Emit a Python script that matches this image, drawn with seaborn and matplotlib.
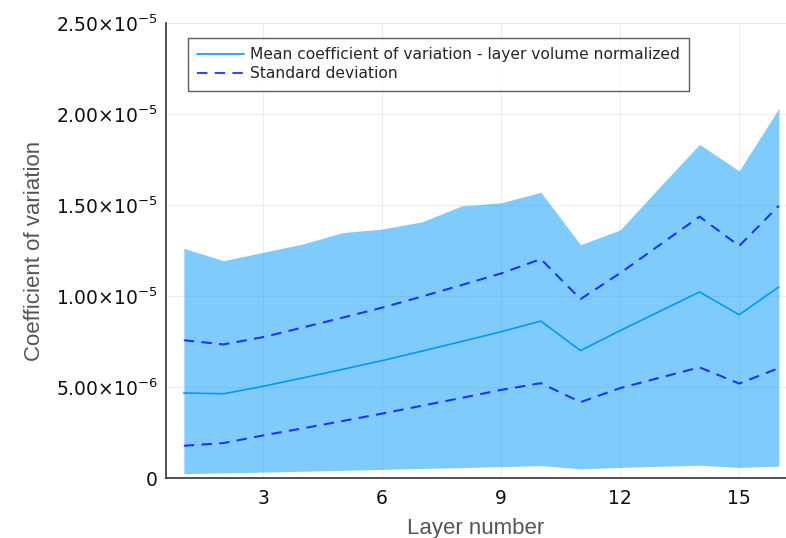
import numpy as np
import pandas as pd
import matplotlib
matplotlib.use("Agg")
import matplotlib.pyplot as plt
import seaborn as sns

layers = list(range(1, 17))
mean_cv = [4.67, 4.63, 5.04, 5.50, 5.97, 6.45, 6.97, 7.50, 8.04, 8.62,
           7.00, 8.10, 9.16, 10.22, 8.97, 10.50]
std_cv = [2.90, 2.71, 2.70, 2.77, 2.84, 2.91, 3.00, 3.10, 3.20, 3.41,
          2.83, 3.16, 3.65, 4.14, 3.78, 4.46]
band_max = [12.62, 11.94, 12.40, 12.86, 13.48, 13.68, 14.07, 14.95, 15.12, 15.70,
            12.82, 13.63, 16.00, 18.33, 16.87, 20.31]
band_min = [0.24, 0.28, 0.32, 0.37, 0.42, 0.47, 0.52, 0.57, 0.62, 0.68,
            0.50, 0.58, 0.64, 0.70, 0.58, 0.65]
scale = 1e-6
yticks = [0, 5e-6, 1e-5, 1.5e-5, 2e-5, 2.5e-5]
ytick_labels = ["0", r"$5.00{\times}10^{-6}$", r"$1.00{\times}10^{-5}$",
                r"$1.50{\times}10^{-5}$", r"$2.00{\times}10^{-5}$", r"$2.50{\times}10^{-5}$"]
xticks = [3, 6, 9, 12, 15]

df = pd.DataFrame({
    "layer": layers,
    "mean": np.array(mean_cv) * scale,
    "upper": (np.array(mean_cv) + np.array(std_cv)) * scale,
    "lower": (np.array(mean_cv) - np.array(std_cv)) * scale,
    "bmax": np.array(band_max) * scale,
    "bmin": np.array(band_min) * scale,
})

sns.set_style("white")
plt.rcParams["font.family"] = ["DejaVu Sans"]
plt.rcParams["mathtext.fontset"] = "dejavusans"

fig = plt.figure(figsize=(7.86, 5.38), dpi=100)
ax = fig.add_axes([166 / 786, 1 - 478 / 538, 620 / 786, (478 - 23) / 538])

ax.fill_between(df["layer"], df["bmin"], df["bmax"], color="#009AFA", alpha=0.5,
                linewidth=0, zorder=1)
sns.lineplot(data=df, x="layer", y="mean", ax=ax, color="#009AFA", linewidth=1.2,
             label="Mean coefficient of variation - layer volume normalized", zorder=3)
sns.lineplot(data=df, x="layer", y="upper", ax=ax, color="#0000FF", alpha=0.75,
             linewidth=1.5, linestyle=(0, (5, 3.5)), label="Standard deviation", zorder=3)
sns.lineplot(data=df, x="layer", y="lower", ax=ax, color="#0000FF", alpha=0.75,
             linewidth=1.5, linestyle=(0, (5, 3.5)), zorder=3)

ax.set_xlim(0.55, 16.18)
ax.set_ylim(0, 2.5e-5)
ax.set_xticks(xticks)
ax.set_xticklabels([str(t) for t in xticks])
ax.set_yticks(yticks)
ax.set_yticklabels(ytick_labels)
ax.tick_params(axis="both", direction="in", length=4, width=0.8, color="#333333",
               labelsize=13.5, labelcolor="#111111")
ax.tick_params(axis="y", pad=6)
ax.tick_params(axis="x", pad=8)
ax.grid(True, color="#000000", alpha=0.07, linewidth=0.8)
ax.set_axisbelow(True)
for s in ["top", "right"]:
    ax.spines[s].set_visible(False)
for s in ["left", "bottom"]:
    ax.spines[s].set_color("#333333")
    ax.spines[s].set_linewidth(1.2)

ax.set_xlabel("Layer number", fontsize=16, color="#555555", labelpad=7,
              family=["Liberation Sans", "DejaVu Sans"])
ax.set_ylabel("Coefficient of variation", fontsize=16, color="#555555", labelpad=8,
              family=["Liberation Sans", "DejaVu Sans"])

leg = ax.legend(loc="upper left", bbox_to_anchor=(22 / 620, 1 - 15 / 455), fontsize=11.2,
                frameon=True, fancybox=False, edgecolor="#333333", handlelength=3.0,
                borderpad=0.6, labelspacing=0.25, handletextpad=0.4, borderaxespad=0)
leg.get_frame().set_linewidth(1.0)

fig.savefig("out.png", dpi=100)
